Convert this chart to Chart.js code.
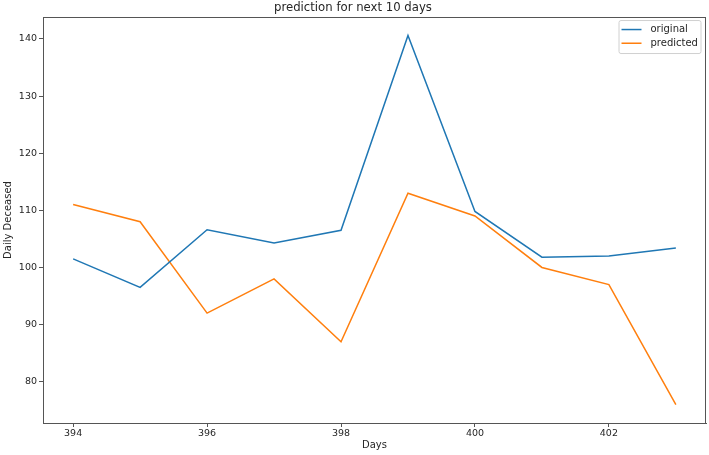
<!DOCTYPE html>
<html>
<head>
<meta charset="utf-8">
<script src="https://cdn.jsdelivr.net/npm/chart.js@4/dist/chart.umd.min.js"></script>
<style>
  html, body { margin: 0; padding: 0; background: #fff; }
  #wrap { width: 709px; height: 455px; }
</style>
</head>
<body>
<div id="wrap"><canvas id="chart" width="709" height="455"></canvas></div>
<script>
// ---- data
const days = [394, 395, 396, 397, 398, 399, 400, 401, 402, 403];
const original = [101.5, 96.5, 106.6, 104.3, 106.5, 140.6, 109.8, 101.8, 102.0, 103.4];
const predicted = [111, 108, 92, 98, 87, 113, 109, 100, 97, 76];
const xTicks = [394, 396, 398, 400, 402];
const yTicks = [80, 90, 100, 110, 120, 130, 140];

const FONT = "'DejaVu Sans', sans-serif";
const INK = "#262626";

function pts(arr) {
  return days.map(function (d, i) { return { x: d, y: arr[i] }; });
}

// frame around the plot area (matplotlib spines)
const framePlugin = {
  id: "frame",
  afterDatasetsDraw: function (chart) {
    const a = chart.chartArea, ctx = chart.ctx;
    ctx.save();
    ctx.strokeStyle = "#555";
    ctx.lineWidth = 1;
    ctx.strokeRect(Math.round(a.left) + 0.5, Math.round(a.top) + 0.5,
      Math.round(a.right - a.left) - 1, Math.round(a.bottom - a.top));
    ctx.restore();
  }
};

// legend box in the upper right corner of the plot
const legendPlugin = {
  id: "innerLegend",
  afterDraw: function (chart) {
    const a = chart.chartArea, ctx = chart.ctx;
    const w = 82, h = 33;
    const x = a.right - 5.5 - w, y = a.top + 3;
    ctx.save();
    ctx.fillStyle = "rgba(255,255,255,0.8)";
    ctx.strokeStyle = "#d0d0d0";
    ctx.lineWidth = 1;
    ctx.beginPath();
    ctx.roundRect(x + 0.5, y + 0.5, w, h, 2);
    ctx.fill();
    ctx.stroke();
    ctx.font = "10px " + FONT;
    ctx.textBaseline = "middle";
    chart.data.datasets.forEach(function (ds, i) {
      const ly = y + 9.5 + i * 13.7;
      ctx.strokeStyle = ds.borderColor;
      ctx.lineWidth = 1.5;
      ctx.beginPath();
      ctx.moveTo(x + 3, ly);
      ctx.lineTo(x + 23, ly);
      ctx.stroke();
      ctx.fillStyle = INK;
      ctx.fillText(ds.label, x + 32, ly);
    });
    ctx.restore();
  }
};

new Chart(document.getElementById("chart"), {
  type: "line",
  data: {
    datasets: [
      { label: "original", data: pts(original), borderColor: "#1f77b4", backgroundColor: "#1f77b4" },
      { label: "predicted", data: pts(predicted), borderColor: "#ff7f0e", backgroundColor: "#ff7f0e" }
    ]
  },
  options: {
    responsive: false,
    animation: false,
    devicePixelRatio: 1,
    layout: { padding: { left: 0, right: 3, top: 0, bottom: 0 } },
    elements: {
      line: { borderWidth: 1.5, tension: 0 },
      point: { radius: 0, hoverRadius: 0 }
    },
    plugins: {
      legend: { display: false },
      tooltip: { enabled: false },
      title: {
        display: true,
        text: "prediction for next 10 days",
        color: INK,
        font: { family: FONT, size: 11.7, weight: "normal" },
        padding: { top: 1, bottom: 2 }
      }
    },
    scales: {
      x: {
        type: "linear",
        min: 393.55,
        max: 403.45,
        afterBuildTicks: function (s) { s.ticks = xTicks.map(function (v) { return { value: v }; }); },
        afterFit: function (s) { s.height = 32; },
        grid: { display: true, drawOnChartArea: false, drawTicks: true, tickLength: 4, color: "#555" },
        border: { display: true, color: "#555" },
        ticks: { color: INK, font: { family: FONT, size: 9.5 }, padding: 1, maxRotation: 0 },
        title: { display: true, text: "Days", color: INK, font: { family: FONT, size: 10 }, padding: { top: 0, bottom: 4 } }
      },
      y: {
        type: "linear",
        min: 72.77,
        max: 143.83,
        afterBuildTicks: function (s) { s.ticks = yTicks.map(function (v) { return { value: v }; }); },
        afterFit: function (s) { s.width = 43; },
        grid: { display: true, drawOnChartArea: false, drawTicks: true, tickLength: 4, color: "#555" },
        border: { display: true, color: "#555" },
        ticks: { color: INK, font: { family: FONT, size: 9.5 }, padding: 2 },
        title: { display: true, text: "Daily Deceased", color: INK, font: { family: FONT, size: 10 }, padding: { top: 2, bottom: 0 } }
      }
    }
  },
  plugins: [framePlugin, legendPlugin]
});
</script>
</body>
</html>
